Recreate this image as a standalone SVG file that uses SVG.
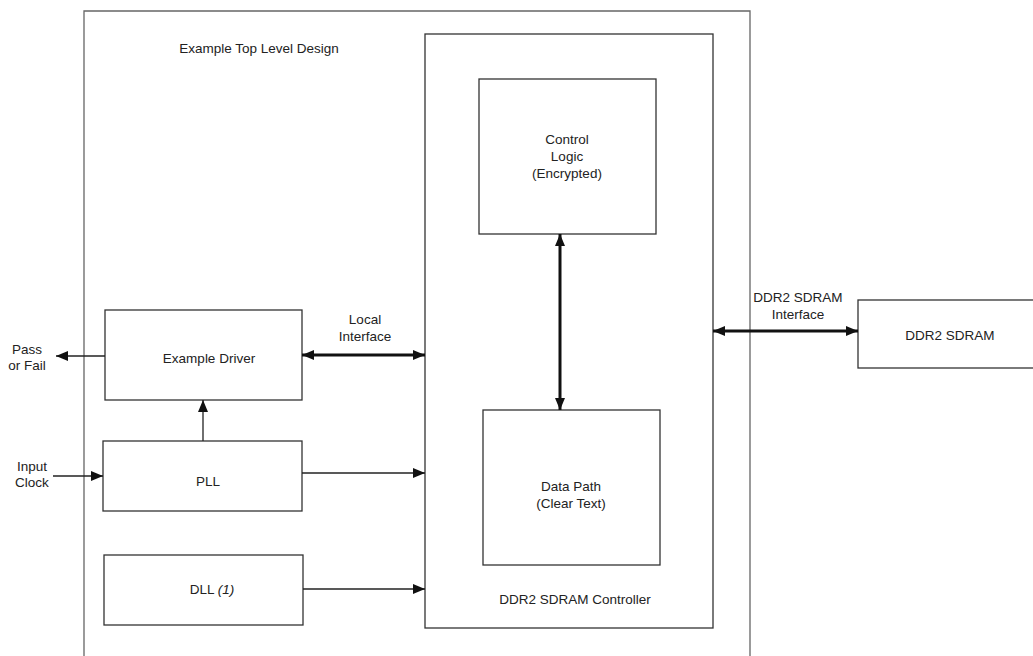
<svg xmlns="http://www.w3.org/2000/svg" width="1033" height="656" viewBox="0 0 1033 656">
<style>
.box{fill:#fff;stroke:#333;stroke-width:1.3}
.outer{fill:none;stroke:#666;stroke-width:1.3}
.ln{fill:none;stroke:#222;stroke-width:1.3}
.thick{fill:none;stroke:#111;stroke-width:3}
text{font-family:"Liberation Sans",Arial,sans-serif;font-size:13.5px;fill:#222;text-anchor:middle}
</style>
<defs>
<marker id="ah" viewBox="0 0 12 10" refX="12" refY="5" markerWidth="12" markerHeight="10" markerUnits="userSpaceOnUse" orient="auto-start-reverse"><path d="M0,0 L12,5 L0,10 z" fill="#111"/></marker>
</defs>
<rect width="1033" height="656" fill="#fff"/>
<g id="top"><path class="outer" d="M84,660 V11 H750 V660"/><text x="259" y="53">Example Top Level Design</text></g>
<g id="controller"><rect class="box" x="425" y="34" width="288" height="594"/><text x="575" y="604">DDR2 SDRAM Controller</text></g>
<g id="control"><rect class="box" x="479" y="79" width="177" height="155"/><text x="567" y="144">Control</text><text x="567" y="161">Logic</text><text x="567" y="178">(Encrypted)</text></g>
<g id="datapath"><rect class="box" x="483" y="410" width="177" height="155"/><text x="571" y="491">Data Path</text><text x="571" y="508">(Clear Text)</text></g>
<g id="driver"><rect class="box" x="105" y="310" width="197" height="90"/><text x="209" y="363">Example Driver</text></g>
<g id="pll"><rect class="box" x="103" y="441" width="199" height="70"/><text x="208" y="486">PLL</text></g>
<g id="dll"><rect class="box" x="104" y="555" width="199" height="70"/><text x="212" y="594">DLL <tspan font-style="italic">(1)</tspan></text></g>
<g id="sdram"><rect class="box" x="858" y="300" width="176" height="68"/><text x="950" y="340">DDR2 SDRAM</text></g>
<g id="labels"><text x="27" y="354">Pass</text><text x="27" y="370">or Fail</text><text x="32" y="471">Input</text><text x="32" y="487">Clock</text><text x="365" y="324">Local</text><text x="365" y="341">Interface</text><text x="798" y="302">DDR2 SDRAM</text><text x="798" y="319">Interface</text></g>
<g id="connectors">
<line class="ln" x1="105" y1="356" x2="56" y2="356" marker-end="url(#ah)"/>
<line class="thick" x1="302" y1="355" x2="425" y2="355" marker-start="url(#ah)" marker-end="url(#ah)"/>
<line class="ln" x1="203" y1="441" x2="203" y2="400" marker-end="url(#ah)"/>
<line class="ln" x1="53" y1="476" x2="103" y2="476" marker-end="url(#ah)"/>
<line class="ln" x1="302" y1="473" x2="425" y2="473" marker-end="url(#ah)"/>
<line class="ln" x1="303" y1="589" x2="425" y2="589" marker-end="url(#ah)"/>
<line class="thick" x1="560" y1="234" x2="560" y2="410" marker-start="url(#ah)" marker-end="url(#ah)"/>
<line class="thick" x1="713" y1="331" x2="858" y2="331" marker-start="url(#ah)" marker-end="url(#ah)"/>
</g>
</svg>
